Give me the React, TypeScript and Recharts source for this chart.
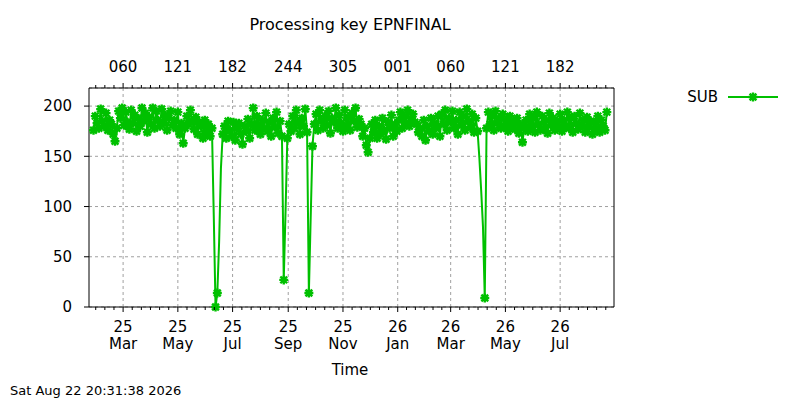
import { LineChart, Line, XAxis, YAxis, CartesianGrid, ReferenceLine, Legend } from "recharts";

const FONT = "'DejaVu Sans', sans-serif";
const GREEN = "#00c000";

// days counted from 1 Jan 2025, one sample every 2 days
const FIRST_DAY = 26;
const STEP_DAYS = 2;
const subValues = [
  176, 190, 183, 178, 197, 185, 180, 193, 176, 186,
  182, 172, 165, 178, 195, 188, 198, 181, 194, 184,
  177, 196, 183, 191, 175, 188, 180, 198, 185, 193,
  174, 189, 182, 198, 178, 195, 186, 180, 197, 183,
  191, 176, 188, 195, 181, 186, 178, 194, 172, 183,
  163, 178, 190, 182, 196, 185, 177, 189, 172, 184,
  180, 168, 186, 174, 182, 170, 178, 92, 0, 14,
  65, 138, 172, 180, 168, 185, 176, 170, 184, 166,
  178, 183, 172, 162, 180, 175, 187, 168, 182, 198,
  176, 190, 181, 172, 186, 178, 193, 175, 184, 170,
  188, 179, 194, 173, 185, 170, 27, 95, 168, 182,
  175, 190, 178, 196, 184, 172, 188, 180, 197, 174,
  14, 88, 160, 182, 192, 176, 196, 185, 178, 190,
  181, 195, 173, 188, 184, 198, 178, 191, 183, 175,
  196, 180, 189, 176, 193, 185, 198, 179, 187, 182,
  170, 178, 161, 154, 168, 182, 174, 186, 168, 180,
  172, 188, 176, 167, 184, 178, 191, 170, 182, 175,
  186, 194, 178, 190, 183, 196, 180, 188, 192, 184,
  182, 174, 178, 170, 186, 166, 180, 175, 188, 172,
  183, 178, 190, 170, 192, 182, 196, 176, 188, 184,
  195, 178, 186, 172, 194, 181, 190, 176, 197, 185,
  179, 192, 174, 188, 175, 148, 116, 80, 9, 178,
  194, 182, 190, 176, 195, 183, 188, 178, 192, 180,
  186, 175, 190, 181, 184, 177, 188, 173, 182, 164,
  178, 186, 175, 192, 180, 188, 174, 194, 182, 176,
  190, 178, 186, 173, 193, 181, 188, 176, 185, 179,
  192, 175, 186, 180, 194, 178, 188, 174, 190, 183,
  177, 193, 180, 186, 174, 189, 179, 185, 172, 184,
  178, 190, 174, 186, 180, 176, 194,
];

const MAJOR_DAYS = [59, 120, 181, 243, 304, 365, 424, 485, 546];
const BOTTOM_YEARS = ["25", "25", "25", "25", "25", "26", "26", "26", "26"];
const BOTTOM_MONTHS = ["Mar", "May", "Jul", "Sep", "Nov", "Jan", "Mar", "May", "Jul"];
const TOP_LABELS = ["060", "121", "182", "244", "305", "001", "060", "121", "182"];
const Y_TICKS = [0, 50, 100, 150, 200];
const X_DOMAIN = [21, 606];

const data = subValues.map((v, i) => ({ day: FIRST_DAY + i * STEP_DAYS, sub: v }));

// 5 minor ticks between majors, same spacing carried past both ends
const minorTicks: number[] = [];
for (let i = 0; i < MAJOR_DAYS.length - 1; i++) {
  const a = MAJOR_DAYS[i];
  const step = (MAJOR_DAYS[i + 1] - a) / 6;
  for (let k = 1; k < 6; k++) minorTicks.push(a + k * step);
}
const edgeStep = (MAJOR_DAYS[1] - MAJOR_DAYS[0]) / 6;
for (let d = MAJOR_DAYS[0] - edgeStep; d >= X_DOMAIN[0]; d -= edgeStep) minorTicks.push(d);
for (let d = MAJOR_DAYS[MAJOR_DAYS.length - 1] + edgeStep; d <= X_DOMAIN[1]; d += edgeStep) minorTicks.push(d);
const allTicks = [...MAJOR_DAYS, ...minorTicks].sort((a, b) => a - b);

const Star = ({ cx, cy, r = 4.5 }: { cx: number; cy: number; r?: number }) => {
  const d = r * 0.75;
  return (
    <path
      d={`M${cx - r},${cy}H${cx + r}M${cx},${cy - r}V${cy + r}M${cx - d},${cy - d}L${cx + d},${cy + d}M${cx - d},${cy + d}L${cx + d},${cy - d}`}
      stroke={GREEN}
      strokeWidth={2.4}
      fill="none"
    />
  );
};

// the sharp drops only show markers at their bottom
const renderDot = (p: any) => {
  const v = p.payload?.sub;
  if (v > 30 && v < 150) return <g key={p.index} />;
  return <Star key={p.index} cx={p.cx} cy={p.cy} />;
};

const BottomTick = (props: any) => {
  const { x, y, payload } = props;
  const idx = MAJOR_DAYS.indexOf(payload.value);
  if (idx < 0) return <line x1={x} x2={x} y1={y} y2={y + 3} stroke="#000" />;
  return (
    <g>
      <line x1={x} x2={x} y1={y} y2={y + 5} stroke="#000" />
      <text x={x} y={y + 25} textAnchor="middle" fontSize={15} fontFamily={FONT} fill="#000">
        {BOTTOM_YEARS[idx]}
      </text>
      <text x={x} y={y + 42} textAnchor="middle" fontSize={15} fontFamily={FONT} fill="#000">
        {BOTTOM_MONTHS[idx]}
      </text>
    </g>
  );
};

const TopTick = (props: any) => {
  const { x, y, payload } = props;
  const idx = MAJOR_DAYS.indexOf(payload.value);
  if (idx < 0) return <line x1={x} x2={x} y1={y} y2={y - 3} stroke="#000" />;
  return (
    <g>
      <line x1={x} x2={x} y1={y} y2={y - 5} stroke="#000" />
      <text x={x} y={y - 16} textAnchor="middle" fontSize={15} fontFamily={FONT} fill="#000">
        {TOP_LABELS[idx]}
      </text>
    </g>
  );
};

const LegendBox = () => (
  <svg width={130} height={24}>
    <text x={58} y={17} textAnchor="end" fontSize={15} fontFamily={FONT} fill="#000">
      SUB
    </text>
    <line x1={68} x2={118} y1={12} y2={12} stroke={GREEN} strokeWidth={2} />
    <Star cx={93} cy={12} />
  </svg>
);

export default function App() {
  return (
    <div style={{ position: "absolute", left: 0, top: 0, width: 800, height: 400, background: "#fff" }}>
      <LineChart width={800} height={400} data={data} margin={{ top: 58, right: 55, bottom: 63, left: 49 }}>
        <CartesianGrid vertical={false} stroke="#a0a0a0" strokeDasharray="3 3" />
        {MAJOR_DAYS.map((d) => (
          <ReferenceLine key={d} x={d} stroke="#a0a0a0" strokeDasharray="3 3" />
        ))}
        <XAxis
          dataKey="day"
          type="number"
          domain={X_DOMAIN}
          allowDataOverflow
          ticks={allTicks}
          interval={0}
          height={30}
          tickSize={0}
          tickMargin={0}
          tickLine={false}
          axisLine={{ stroke: "#000" }}
          tick={BottomTick}
        />
        <XAxis
          xAxisId="top"
          orientation="top"
          dataKey="day"
          type="number"
          domain={X_DOMAIN}
          allowDataOverflow
          ticks={allTicks}
          interval={0}
          height={30}
          tickSize={0}
          tickMargin={0}
          tickLine={false}
          axisLine={{ stroke: "#000" }}
          tick={TopTick}
        />
        <YAxis
          domain={[0, 218]}
          ticks={Y_TICKS}
          interval={0}
          width={40}
          tickSize={5}
          tickMargin={12}
          axisLine={{ stroke: "#000" }}
          tickLine={{ stroke: "#000" }}
          tick={{ fill: "#000", fontSize: 15, fontFamily: FONT }}
        />
        <YAxis
          yAxisId="right"
          orientation="right"
          domain={[0, 218]}
          ticks={Y_TICKS}
          interval={0}
          width={1}
          tickSize={5}
          axisLine={{ stroke: "#000" }}
          tickLine={{ stroke: "#000" }}
          tickFormatter={() => ""}
        />
        <Legend
          layout="horizontal"
          verticalAlign="middle"
          align="right"
          wrapperStyle={{ left: 660, top: 85, width: 130, height: 24 }}
          content={LegendBox}
        />
        <Line
          type="linear"
          dataKey="sub"
          name="SUB"
          stroke={GREEN}
          strokeWidth={2}
          dot={renderDot}
          isAnimationActive={false}
        />
      </LineChart>
      <svg width={800} height={400} style={{ position: "absolute", left: 0, top: 0, pointerEvents: "none" }}>
        <text x={350} y={30} textAnchor="middle" fontSize={16} fontFamily={FONT} fill="#000">
          Processing key EPNFINAL
        </text>
        <text x={350} y={375} textAnchor="middle" fontSize={15} fontFamily={FONT} fill="#000">
          Time
        </text>
        <text x={10} y={395} fontSize={13} fontFamily={FONT} fill="#000">
          Sat Aug 22 20:31:38 2026
        </text>
      </svg>
    </div>
  );
}
